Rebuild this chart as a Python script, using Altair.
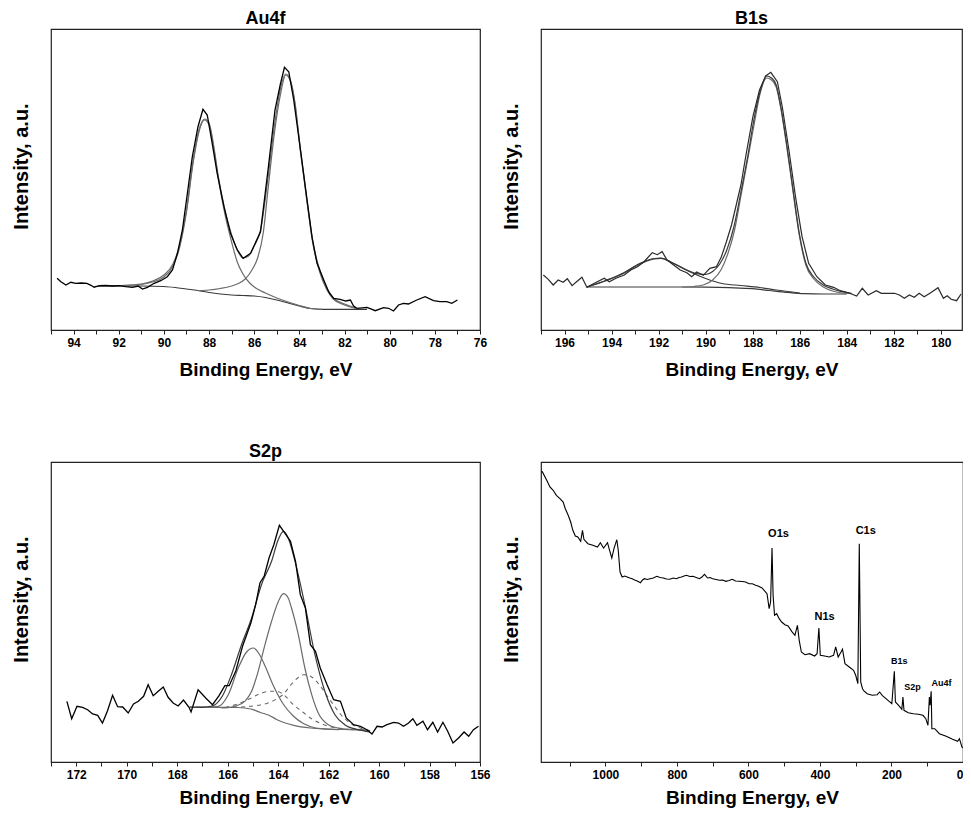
import altair as alt
import pandas as pd

FONT = "Liberation Sans"

# ---------------- Au4f ----------------
au_raw_E = [94.73, 94.56, 94.34, 94.12, 93.9, 93.67, 93.41, 93.23, 93.09, 92.86, 92.57, 92.28, 91.98, 91.69,
            91.39, 91.14, 90.95, 90.73, 90.43, 90.14, 89.85, 89.62, 89.4, 89.18, 88.96, 88.74, 88.49, 88.27,
            88.08, 87.86, 87.64, 87.34, 87.05, 86.75, 86.49, 86.16, 85.72, 85.37, 85.08, 84.85, 84.66, 84.47,
            84.25, 83.95, 83.66, 83.44, 83.22, 82.92, 82.7, 82.48, 82.19, 81.95, 81.74, 81.6, 81.45, 81.0,
            80.64, 80.27, 80.05, 79.83, 79.61, 79.39, 79.17, 78.8, 78.43, 78.06, 77.77, 77.47, 77.25, 77.0]
au_raw_I = [51.7, 48.3, 45, 47.7, 46.7, 47, 46.7, 44.7, 42.7, 44.3, 44.7, 44, 44.3, 43.3,
            42.7, 44, 41, 42.7, 46.7, 49.3, 53.3, 60, 76.7, 100, 136.7, 173.3, 203.3, 220.7,
            215, 186.7, 156.7, 123.3, 96.7, 80, 71.7, 76.7, 98.3, 163.3, 220, 245, 262.7, 258.3,
            230, 180, 130, 93, 67, 50, 38, 31.7, 30.7, 29, 30, 24, 21.7, 22.7,
            19.3, 22.3, 21.7, 19, 25, 26.7, 26, 30, 33.3, 29.3, 28.3, 28.3, 26.7, 30]
au_env_E = [93.1, 92.0, 91.0, 90.5, 90.0, 89.6, 89.3, 89.0, 88.7, 88.45, 88.2, 88.0, 87.8, 87.6, 87.3, 87.0,
            86.75, 86.5, 86.25, 86.0, 85.72, 85.4, 85.1, 84.85, 84.6, 84.4, 84.2, 83.95, 83.65, 83.4, 83.1,
            82.8, 82.5, 82.0, 81.5]
au_env_I = [43.5, 44.5, 46, 49, 55, 66, 85, 120, 170, 200, 211, 207, 185, 155, 120, 95,
            80, 72, 74, 84, 100, 150, 205, 240, 256, 250, 228, 180, 128, 88, 60,
            43, 32, 26, 22]
au_c1_E = [93.1, 92.0, 91.0, 90.5, 90.0, 89.6, 89.3, 89.0, 88.7, 88.45, 88.2, 88.0, 87.8, 87.6, 87.3, 87.0,
           86.75, 86.5, 86.2, 85.9, 85.5, 85.0, 84.5, 84.0, 83.5, 83.0]
au_c1_I = [43.5, 44.3, 45.5, 48, 53, 64, 83, 118, 168, 198, 210, 205, 183, 153, 116, 88,
           68, 56, 47, 41.5, 37, 32, 28, 24.5, 21.5, 20.7]
au_c2_E = [88.5, 88.0, 87.5, 87.0, 86.7, 86.4, 86.1, 85.85, 85.6, 85.4, 85.1, 84.85, 84.6, 84.4, 84.2,
           83.95, 83.65, 83.4, 83.1, 82.8, 82.5, 82.0, 81.5]
au_c2_I = [39.5, 40, 41.5, 44, 46.5, 51, 60, 72, 97, 138, 198, 234, 255, 249, 227,
           178, 126, 86, 58, 41, 31, 25, 21.5]
au_bg_E = [93.1, 92.0, 91.0, 90.0, 89.5, 89.0, 88.5, 88.0, 87.5, 87.0, 86.5, 86.0, 85.5, 85.0, 84.5, 84.0,
           83.5, 83.0, 82.0, 81.0]
au_bg_I = [43.5, 44, 44, 43.5, 42.5, 41, 39.5, 37.5, 36, 35, 34.5, 34, 32.5, 30, 27, 24,
           21.5, 20.7, 20.7, 20.7]

# ---------------- B1s ----------------
b_raw_E = [196.9, 196.69, 196.48, 196.27, 196.06, 195.88, 195.68, 195.45, 195.26, 195.05, 194.73, 194.31,
           194.1, 193.81, 193.46, 193.18, 192.9, 192.62, 192.27, 192.06, 191.85, 191.64, 191.36, 191.08,
           190.8, 190.59, 190.38, 190.1, 189.82, 189.54, 189.33, 189.12, 188.9, 188.7, 188.5, 188.27,
           187.99, 187.71, 187.45, 187.23, 186.95, 186.74, 186.46, 186.18, 185.9, 185.62, 185.27, 184.91,
           184.56, 184.28, 183.93, 183.58, 183.34, 183.09, 182.74, 182.53, 182.25, 181.97, 181.76, 181.55,
           181.34, 181.13, 180.92, 180.71, 180.43, 180.12, 179.89, 179.73, 179.56, 179.33, 179.14]
b_raw_I = [55, 50.7, 45, 50, 47.7, 51.3, 44.3, 49, 52.7, 42.7, 46.7, 51.7,
           48.3, 51.7, 55, 60, 63.3, 68.3, 77.3, 75.3, 78.3, 70, 65, 60,
           57.3, 53.3, 58, 54.7, 61.7, 63.3, 73.3, 88, 105, 125, 145, 177,
           213.3, 240, 254, 257.7, 248.3, 223, 180, 133.3, 93.3, 66.7, 53.3, 45,
           42.7, 39.3, 37.3, 34, 41.7, 35, 39.3, 36.7, 36.7, 36.7, 35, 31.7,
           35, 32.7, 36.7, 33.3, 37.3, 42.3, 31.7, 34.3, 30.7, 29.3, 36]
b_env_E = [195.05, 194.2, 193.5, 192.8, 192.2, 191.9, 191.4, 190.8, 190.3, 190.0, 189.7, 189.4, 189.1,
           188.8, 188.5, 188.2, 187.95, 187.7, 187.4, 187.2, 187.0, 186.8, 186.58, 186.3, 186.02, 185.74,
           185.4, 185.0, 184.6, 184.2, 183.8]
b_env_I = [43, 50, 57, 66.5, 71.5, 72, 67, 60, 56, 55.5, 58.5, 66, 80,
           103, 138, 175, 210, 237, 254, 252, 245, 223, 190, 143, 97, 67,
           53, 45, 41, 38.3, 36.7]
b_main_E = [191.0, 190.5, 190.1, 189.7, 189.35, 189.05, 188.77, 188.5, 188.2, 187.92, 187.7, 187.4, 187.2,
            187.0, 186.8, 186.58, 186.3, 186.02, 185.74, 185.4, 185.0, 184.6, 184.2, 183.8]
b_main_I = [43, 43.5, 45, 50, 60, 76.7, 100, 134, 172, 208, 235, 252, 250,
            243, 221, 188, 141, 95, 65, 51, 43, 39, 37, 36.5]
b_small_E = [195.05, 194.2, 193.5, 192.8, 192.2, 191.9, 191.4, 190.7, 190.0, 189.3, 188.5, 187.7, 187.0, 186.0]
b_small_I = [43, 49.5, 56.5, 66, 71, 71.7, 67, 58.5, 51.5, 46.5, 44.5, 42.5, 40, 37]
b_bg_E = [195.05, 193.0, 191.0, 190.0, 189.0, 188.0, 187.3, 186.5, 185.8, 185.0, 184.0]
b_bg_I = [43, 43, 43, 42.8, 42.3, 41.3, 39.5, 37.5, 36.3, 36, 36]

# ---------------- S2p ----------------
s_raw_E = [172.37, 172.18, 171.97, 171.75, 171.55, 171.35, 171.15, 170.96, 170.76, 170.56, 170.36, 170.16,
           169.94, 169.73, 169.54, 169.33, 169.15, 168.95, 168.75, 168.55, 168.36, 168.16, 167.96, 167.75,
           167.53, 167.45, 167.17, 166.87, 166.6, 166.34, 166.11, 165.94, 165.68, 165.41, 165.08, 164.89,
           164.72, 164.55, 164.36, 164.17, 163.95, 163.78, 163.51, 163.31, 163.12, 162.92, 162.72, 162.52,
           162.33, 162.06, 161.8, 161.53, 161.3, 161.01, 160.74, 160.48, 160.28, 160.08, 159.88, 159.69,
           159.42, 159.23, 159.03, 158.83, 158.66, 158.5, 158.26, 158.08, 157.87, 157.68, 157.47, 157.29,
           157.07, 156.85, 156.63, 156.45, 156.26, 156.06]
s_raw_I = [60.7, 43.3, 55.7, 54.7, 52.3, 48, 46.7, 39, 51.3, 66.7, 55.3, 55,
           49, 58, 60.7, 65.7, 77.3, 66.3, 70.7, 75, 64.7, 59, 56, 62,
           54.7, 50, 72.3, 64, 57.3, 66.3, 76.3, 76.3, 90.7, 115.7, 139, 157.3,
           179, 186, 204, 217.3, 236.7, 230.7, 220.7, 200.7, 167.3, 154, 117.3, 110.7,
           94, 77.3, 62.3, 60.7, 44, 37.3, 35.7, 32.3, 28, 35.7, 35, 37.3,
           39.7, 39, 35.7, 39, 43.3, 36.7, 40.7, 32.3, 39.7, 30, 39.7, 31.3,
           19, 24, 30, 25.7, 32.3, 35.7]
s_env_E = [167.5, 167.0, 166.7, 166.5, 166.18, 165.85, 165.45, 165.05, 164.66, 164.26, 164.0, 163.79, 163.6,
           163.33, 162.94, 162.54, 162.15, 161.75, 161.36, 160.83, 160.37]
s_env_I = [55, 54.7, 55.5, 57.3, 67.3, 87.3, 117.3, 144, 177.3, 200.7, 222, 230.7, 224,
           200.7, 157.3, 107.3, 70.7, 47.3, 37.3, 32.3, 30]
s_a_E = [166.3, 166.11, 165.71, 165.32, 165.05, 164.79, 164.52, 164.26, 164.0, 163.79, 163.6, 163.47, 163.2,
         162.94, 162.67, 162.41, 162.01, 161.62, 160.96, 160.4]
s_a_I = [54.5, 54, 55.7, 60.7, 70.7, 90.7, 117.3, 140.7, 160, 168.3, 164, 154, 127.3,
         94, 67.3, 49, 37.3, 34, 32.3, 31]
s_b_E = [167.3, 166.8, 166.37, 165.98, 165.58, 165.25, 164.98, 164.75, 164.5, 164.2, 163.8, 163.4, 163.0,
         162.5, 162.0, 161.6]
s_b_I = [54.8, 55, 55.7, 67, 94, 110, 114, 108, 95, 77, 58, 46, 38.5,
         34, 32.8, 32.3]
s_c_E = [166.1, 165.5, 165.0, 164.7, 164.3, 164.0, 163.78, 163.5, 163.2, 162.98, 162.7, 162.33, 162.0, 161.8,
         161.5, 161.1, 160.7, 160.4]
s_c_I = [54.5, 55, 56, 57, 60, 64, 68, 77, 84.5, 87.3, 85.5, 76, 64, 57,
         47, 38, 33.5, 31.5]
s_d_E = [166.1, 165.6, 165.1, 164.7, 164.3, 164.05, 163.78, 163.38, 163.0, 162.72, 162.19, 161.7, 161.0]
s_d_I = [54.5, 58, 63.5, 68.5, 70.7, 70.7, 67.3, 57, 49.5, 44, 37.3, 34, 32.3]
s_bg_E = [167.5, 166.5, 165.6, 165.08, 164.7, 164.36, 164.04, 163.38, 162.72, 162.06, 161.4, 160.74, 160.35]
s_bg_I = [55, 54.7, 54.5, 53, 49.5, 46.7, 42.3, 36.7, 34, 33, 32.5, 32.3, 31.3]

# ---------------- Survey ----------------
sv_E = [1179, 1176, 1164, 1155, 1146, 1137, 1127, 1118, 1112, 1104, 1097, 1091, 1084, 1077, 1069, 1064,
        1060, 1049, 1035, 1022, 1014, 1005, 994, 989, 982, 976, 968, 964, 959, 953, 946, 939, 932, 925,
        918, 911, 902, 896, 891, 883, 875, 866, 856, 847, 838, 829, 820, 810, 801, 794, 787, 780, 773,
        764, 755, 746, 737, 730, 723, 714, 707, 700, 690, 681, 672, 663, 654, 645, 636, 626, 617, 608,
        598, 589, 580, 573, 562, 548, 542, 538, 534, 531, 527, 521, 514, 507, 498, 489, 479, 470, 463,
        458, 452, 442, 429, 415, 408, 403, 399, 387, 374, 362, 356, 349, 341, 337, 330, 318, 306, 300,
        294, 290, 286, 281, 277, 268, 254, 240, 233, 226, 213, 199, 192, 189, 180, 171, 168, 165, 153,
        139, 125, 112, 104, 98, 94, 92, 89, 87, 79, 66, 47, 29, 15, 10, 3, 0]
sv_I = [290.7, 290, 281.7, 275, 271.7, 266.7, 263.3, 260, 253.3, 246.7, 240, 231.7, 226, 225, 220.7, 231.7,
        222.7, 218.3, 216.7, 215, 219.3, 214, 219.3, 212.7, 204, 213.3, 222.3, 211.7, 190, 185, 186, 185, 184, 183.3,
        182, 181, 179.3, 182, 183.3, 182.5, 183.3, 184, 185.7, 184.5, 184, 183, 182.7, 184, 183.3, 184.5, 185, 186, 186.7,
        185.5, 185.7, 184.5, 183.3, 185, 187.7, 184, 184.5, 183.3, 182.5, 181.7, 182, 180.7, 181.5, 182.7, 181, 180.7, 180.5, 180,
        178.3, 178.3, 176.7, 176, 174, 168.3, 153.3, 160, 214, 166.7, 146.7, 148.3, 143.3, 140, 137.3, 136, 130.7, 126.7, 136.7,
        121.7, 110, 107.3, 108.3, 106, 108.3, 134, 106.7, 106, 105, 106.7, 115, 105, 110, 112.7, 98.3, 95, 91.7, 86.7,
        78.3, 218.3, 80, 73.3, 71, 68.3, 66.7, 67.3, 70, 66.7, 62.7, 58.3, 90.7, 60, 56.7, 52.7, 65, 51.7, 49.3,
        48.3, 47.7, 46.7, 43.3, 36.7, 65, 56.7, 70.7, 33.3, 33.3, 28.3, 25.7, 22.7, 20.7, 23.3, 15, 14]
ann_label = ["O1s", "C1s", "N1s", "B1s", "S2p", "Au4f"]
ann_E = [516, 272, 387, 178, 141, 60]
ann_I = [228, 230.7, 145, 100.7, 74.7, 79.3]
ann_fs = [11, 11, 11, 9, 9, 9]


def frame(E, I):
    return pd.DataFrame(list(zip(E, I)), columns=["E", "I"])


GRAY = "#6a6a6a"
DARK = "#3a3a3a"


def panel(title, xdom, ticks, step, ymax, curves, w, h, tpad, texts=None, flush=False):
    x = alt.X("E:Q", scale=alt.Scale(domain=xdom, nice=False, zero=False),
              axis=alt.Axis(values=ticks, format="d", labelFlush=flush, titlePadding=tpad,
                            labelExpr=f"datum.value % {step} == 0 ? datum.label : ''",
                            title="Binding Energy, eV"))
    y = alt.Y("I:Q", scale=alt.Scale(domain=[0, ymax], nice=False, zero=False),
              axis=alt.Axis(title="Intensity, a.u.", labels=False, ticks=False, domain=False,
                            grid=False, titleY=137))
    layers = []
    for df, style in curves:
        layers.append(alt.Chart(df).mark_line(**style).encode(x=x, y=y))
    if texts is not None:
        layers.append(alt.Chart(texts).mark_text(font=FONT, fontWeight="bold", color="#000",
                                                 align="center", baseline="middle").encode(
            x=x, y=y, text="label:N", size=alt.Size("fs:Q", scale=None)))
    props = dict(width=w, height=h)
    if title:
        props["title"] = alt.TitleParams(title, offset=1)
    return alt.layer(*layers).properties(**props)


raw = dict(color="#000", strokeWidth=1.3)
comp = dict(color=GRAY, strokeWidth=1.2, interpolate="monotone")
env = dict(color=DARK, strokeWidth=1.2, interpolate="monotone")
dash = dict(color=GRAY, strokeWidth=1.1, interpolate="monotone", strokeDash=[4, 4])

p1 = panel("Au4f", [95, 76], list(range(76, 96)), 2, 301, [
    (frame(au_bg_E, au_bg_I), env),
    (frame(au_c1_E, au_c1_I), comp),
    (frame(au_c2_E, au_c2_I), comp),
    (frame(au_env_E, au_env_I), comp),
    (frame(au_raw_E, au_raw_I), raw),
], 429, 301, 12)

p2 = panel("B1s", [197, 179.1], list(range(180, 198)), 2, 301, [
    (frame(b_bg_E, b_bg_I), env),
    (frame(b_small_E, b_small_I), env),
    (frame(b_main_E, b_main_I), comp),
    (frame(b_env_E, b_env_I), env),
    (frame(b_raw_E, b_raw_I), dict(color="#2a2a2a", strokeWidth=1.2)),
], 421, 301, 12)

p3 = panel("S2p", [173, 156], list(range(156, 174)), 2, 300, [
    (frame(s_bg_E, s_bg_I), comp),
    (frame(s_c_E, s_c_I), dash),
    (frame(s_d_E, s_d_I), dash),
    (frame(s_b_E, s_b_I), comp),
    (frame(s_a_E, s_a_I), comp),
    (frame(s_env_E, s_env_I), env),
    (frame(s_raw_E, s_raw_I), raw),
], 429, 300, 8)

ann = pd.DataFrame({"E": ann_E, "I": ann_I, "label": ann_label, "fs": ann_fs})
p4 = panel(None, [1180, 0], list(range(0, 1200, 100)), 200, 300, [
    (frame(sv_E, sv_I), dict(color="#000", strokeWidth=1.1)),
], 422, 300, 8, texts=ann, flush=True)

chart = alt.concat(p1, p2, p3, p4, columns=2,
                   spacing=alt.RowColnumber(row=132, column=61),
                   bounds="flush").properties(
    autosize=alt.AutoSizeParams(type="none"),
    padding={"left": 43, "top": 21, "right": 912, "bottom": 781}
).configure_view(
    stroke="#222", strokeWidth=1.2
).configure_axis(
    grid=False, domain=False, labelFont=FONT, titleFont=FONT, labelFontSize=12,
    labelFontWeight="bold", titleFontSize=19, titleFontWeight="bold", labelColor="#000",
    titleColor="#000", tickColor="#222", tickSize=4, labelPadding=3, labelOverlap=False
).configure_axisY(
    titlePadding=20, titleFontSize=20
).configure_title(
    font=FONT, fontSize=18, fontWeight="bold", color="#000", anchor="middle"
)

chart.save("out.html", embed_options={"renderer": "svg", "actions": False})
